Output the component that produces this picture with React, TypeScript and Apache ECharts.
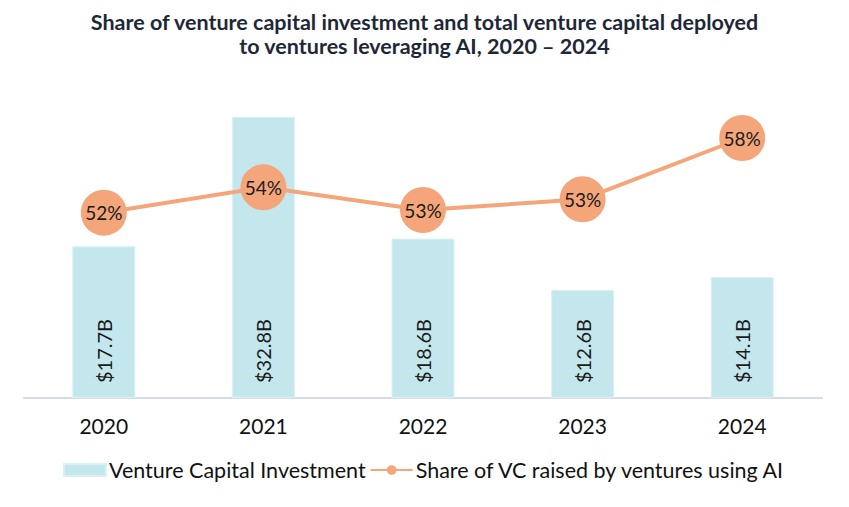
import { useEffect, useRef } from "react";
import * as echarts from "echarts";

const years = ["2020", "2021", "2022", "2023", "2024"];
const vcInvestment = [17.7, 32.8, 18.6, 12.6, 14.1];
const aiShare = [52.4, 54.3, 52.6, 53.4, 58.0];
const titleLines = [
  "Share of venture capital investment and total venture capital deployed",
  "to ventures leveraging AI, 2020 – 2024",
];

const FONT = "Lato, 'Noto Sans', sans-serif";

export default function App() {
  const chartRef = useRef<HTMLDivElement>(null);

  useEffect(() => {
    document.body.style.margin = "0";
    if (!chartRef.current) return;
    const chart = echarts.init(chartRef.current, null, { renderer: "svg" });

    const option: echarts.EChartsOption = {
      animation: false,
      textStyle: { fontFamily: FONT },
      title: titleLines.map((t, i) => ({
        text: t,
        left: "center",
        top: 11 + i * 24,
        padding: 0,
        textStyle: {
          fontFamily: FONT,
          fontSize: 21.5,
          fontWeight: "bold",
          color: "#1e2737",
          lineHeight: 22,
        },
      })),
      legend: {
        bottom: 21,
        left: "center",
        itemGap: 4,
        itemWidth: 42,
        itemHeight: 12,
        textStyle: { fontFamily: FONT, fontSize: 21.5, color: "#111111", padding: [0, 0, 0, -2] },
        data: [
          { name: "Venture Capital Investment", icon: "rect" },
          { name: "Share of VC raised by ventures using AI" },
        ],
      },
      grid: { left: 24, right: 27, top: 98, bottom: 109 },
      xAxis: {
        type: "category",
        data: years,
        axisLine: { lineStyle: { color: "#d3dde8", width: 2 } },
        axisTick: { show: false },
        axisLabel: { fontFamily: FONT, fontSize: 21, color: "#111111", margin: 17 },
      },
      yAxis: [
        { type: "value", min: 0, max: 35, show: false },
        { type: "value", min: 38.5, max: 61, show: false },
      ],
      series: [
        {
          name: "Venture Capital Investment",
          type: "bar",
          data: vcInvestment,
          barWidth: 63,
          yAxisIndex: 0,
          itemStyle: { color: "#c4e7ee", borderColor: "#d9f1f5", borderWidth: 1 },
          label: {
            show: true,
            position: "insideBottom",
            rotate: 90,
            align: "left",
            verticalAlign: "middle",
            distance: 15,
            fontFamily: FONT,
            fontSize: 20,
            color: "#1a1a1a",
            formatter: (p: any) => `$${p.value.toFixed(1)}B`,
          },
        },
        {
          name: "Share of VC raised by ventures using AI",
          type: "line",
          data: aiShare,
          yAxisIndex: 1,
          symbol: "circle",
          symbolSize: 46,
          lineStyle: { color: "#f4a67a", width: 4 },
          itemStyle: { color: "#f4a67a" },
          label: {
            show: true,
            position: "inside",
            fontFamily: FONT,
            fontSize: 19,
            color: "#1a1a1a",
            formatter: (p: any) => `${Math.round(p.value)}%`,
          },
          z: 3,
        },
      ],
    };

    chart.setOption(option);
    const handleResize = () => chart.resize();
    window.addEventListener("resize", handleResize);
    return () => {
      window.removeEventListener("resize", handleResize);
      chart.dispose();
    };
  }, []);

  return <div ref={chartRef} style={{ width: "849px", height: "507px" }} />;
}
